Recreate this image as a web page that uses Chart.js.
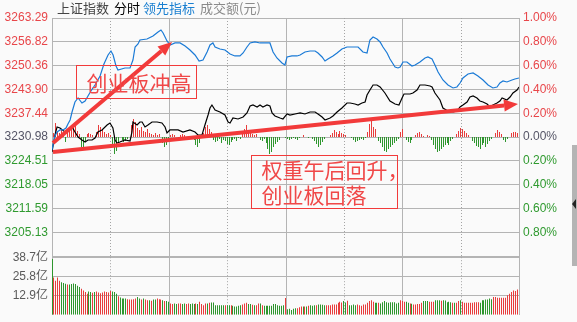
<!DOCTYPE html>
<html><head><meta charset="utf-8">
<script src="https://cdn.jsdelivr.net/npm/chart.js@4.4.0/dist/chart.umd.min.js"></script>
<style>
html,body{margin:0;padding:0;background:#fafafa;}
#wrap{position:relative;width:577px;height:322px;overflow:hidden;background:#fafafa;}
canvas{position:absolute;left:0;}
#cA{top:0;}
#cB{top:246px;}
.hd{position:absolute;top:0;font:13px/16px "Noto Sans CJK SC",sans-serif;white-space:nowrap;}
#sb{position:absolute;left:572px;top:145px;width:5px;height:121px;background:#b4b4b4;}
#sbArrow{position:absolute;left:572px;top:199px;width:0;height:0;border-top:5px solid transparent;border-bottom:5px solid transparent;border-right:4px solid #222;}
</style></head>
<body><div id="wrap">
<canvas id="cA" width="577" height="270"></canvas>
<canvas id="cB" width="577" height="80"></canvas>
<span class="hd" style="left:57px;color:#444">上证指数</span>
<span class="hd" style="left:114px;color:#000">分时</span>
<span class="hd" style="left:143px;color:#1a7fd0">领先指标</span>
<span class="hd" style="left:200px;color:#8a8a8a">成交额(元)</span>
<div id="sb"></div><div id="sbArrow"></div>
</div>
<script>
// ---------- DATA ----------
const prevClose = 3230.98;
const priceTickLabels = ['', '3205.13', '3211.59', '3218.05', '3224.51', '3230.98', '3237.44', '3243.90', '3250.36', '3256.82', '3263.29'];
const pctTickLabels = ['', '0.80%', '0.60%', '0.40%', '0.20%', '0.00%', '0.20%', '0.40%', '0.60%', '0.80%', '1.00%'];
const volTickValues = [12.9, 25.8, 38.7];
const volTickLabels = ['12.9亿', '25.8亿', '38.7亿'];
const gridMinutes = [0, 30, 60, 90, 120, 150, 180, 210, 240];

// 领先指标 (blue) : [minute, value]
const leadLine = [
[0,3227.45],[1.5,3231.26],[2.6,3232.34],[4.1,3232.89],[5.7,3232.89],[7.2,3233.43],[8.2,3234.51],[9.3,3235.60],[10.3,3237.77],[11.8,3240.49],
[13.4,3241.57],[15.4,3240.21],[17.0,3240.76],[18.5,3242.12],[20.0,3243.47],[22.1,3245.10],[24.7,3247.55],[26.7,3250.80],[28.8,3253.25],[30.3,3254.33],
[31.4,3253.25],[32.9,3250.26],[33.9,3249.17],[37.5,3249.72],[40.1,3249.72],[41.6,3251.89],[42.7,3255.42],[44.2,3256.23],[45.2,3257.32],[48.8,3257.59],
[51.9,3258.41],[54.5,3259.49],[56.0,3260.03],[57.1,3259.22],[59.1,3257.05],[60.7,3255.96],[63.2,3256.51],[65.8,3256.51],[68.4,3255.69],[70.9,3254.61],
[73.5,3253.25],[75.6,3251.62],[77.6,3251.89],[79.7,3254.06],[81.2,3255.96],[82.7,3256.51],[83.8,3255.42],[86.3,3254.88],[88.9,3254.61],[91.5,3253.52],
[94.0,3252.98],[96.6,3252.98],[98.2,3253.79],[100.2,3255.42],[101.8,3256.51],[104.3,3256.78],[106.9,3256.51],[109.5,3256.51],[112.0,3256.51],[113.6,3254.06],
[115.6,3252.44],[118.2,3251.07],[119.7,3250.53],[120.8,3252.71],[123.3,3252.98],[125.9,3252.98],[127.5,3253.25],[130.0,3254.06],[132.6,3254.33],[135.2,3254.33],
[136.7,3253.79],[138.8,3252.71],[140.3,3251.62],[141.8,3252.16],[144.4,3252.98],[146.5,3253.79],[149.0,3254.88],[151.6,3255.42],[154.7,3255.42],[157.3,3255.42],
[159.8,3254.06],[161.9,3253.79],[163.4,3257.32],[165.0,3258.13],[167.0,3257.59],[168.6,3256.78],[170.1,3255.42],[172.2,3253.79],[173.7,3252.16],[176.3,3249.99],
[177.8,3249.72],[178.9,3249.99],[180.4,3251.35],[182.4,3251.35],[185.0,3250.26],[186.6,3250.53],[189.1,3251.35],[191.7,3252.44],[193.2,3252.71],[195.3,3252.16],
[196.8,3250.53],[198.4,3248.63],[200.9,3246.46],[203.5,3245.10],[206.1,3244.29],[208.1,3244.56],[209.7,3245.64],[211.2,3247.00],[213.8,3248.09],[216.4,3248.36],
[218.9,3247.55],[221.5,3246.46],[224.1,3245.10],[226.6,3244.29],[228.7,3244.56],[230.2,3245.64],[231.8,3246.19],[233.8,3245.92],[236.4,3246.46],[237.9,3246.73],
[240,3247.00]
];

// 上证指数 (black) : [minute, value]
const indexLine = [
[0,3226.91],[1.5,3231.52],[2.6,3233.70],[4.1,3233.43],[6.7,3232.34],[8.2,3232.89],[10.3,3233.70],[11.8,3232.34],[13.4,3230.98],[15.4,3230.17],
[17.0,3229.62],[18.5,3230.17],[20.6,3230.17],[22.1,3230.71],[23.6,3232.34],[25.7,3232.89],[28.3,3234.24],[29.8,3234.78],[31.3,3233.43],[32.4,3230.17],
[33.4,3229.35],[34.9,3229.62],[37.5,3230.17],[40.1,3229.90],[41.1,3232.34],[41.6,3235.05],[43.7,3234.24],[45.2,3235.05],[46.3,3235.05],[47.8,3233.70],
[49.3,3234.24],[51.4,3235.05],[54.0,3235.05],[56.5,3234.78],[58.1,3233.70],[59.1,3232.07],[60.6,3232.89],[63.2,3232.89],[64.8,3232.89],[67.3,3232.34],
[70.9,3232.89],[73.5,3232.34],[75.0,3231.52],[77.1,3231.52],[78.6,3234.24],[80.2,3236.95],[81.2,3238.86],[82.2,3239.67],[83.8,3238.32],[86.3,3237.77],
[88.9,3236.95],[90.5,3235.05],[91.5,3234.78],[93.0,3236.14],[95.6,3235.87],[98.2,3236.41],[100.2,3237.50],[101.8,3239.40],[103.3,3239.67],[105.4,3239.13],
[106.9,3239.67],[108.4,3239.13],[110.5,3239.67],[112.0,3239.40],[113.1,3237.50],[114.6,3236.68],[117.2,3236.14],[118.7,3235.87],[120.8,3237.23],[122.3,3236.95],
[124.9,3237.23],[127.5,3237.50],[130.0,3237.23],[132.6,3237.77],[135.2,3237.77],[136.7,3237.23],[138.8,3236.41],[140.3,3235.60],[142.9,3236.14],[144.4,3236.68],
[146.5,3237.77],[149.0,3238.86],[151.6,3240.21],[153.2,3240.21],[155.7,3239.94],[157.3,3239.67],[159.3,3240.21],[160.9,3240.49],[161.9,3242.39],[163.4,3243.75],
[165.0,3245.10],[167.0,3245.10],[168.6,3244.56],[171.1,3242.93],[173.7,3240.76],[176.3,3239.94],[178.3,3239.67],[179.9,3241.57],[180.9,3242.66],[184.0,3242.66],
[185.5,3242.93],[187.6,3243.75],[189.1,3245.10],[191.7,3245.10],[194.3,3244.83],[195.3,3244.56],[196.8,3242.93],[199.4,3241.03],[200.9,3238.86],[203.5,3238.04],
[206.1,3237.77],[208.1,3238.04],[209.7,3239.13],[211.2,3239.67],[213.3,3240.49],[214.8,3241.84],[216.4,3242.12],[218.4,3241.57],[219.9,3240.76],[221.5,3240.49],
[223.6,3239.94],[225.1,3239.13],[226.6,3239.67],[228.7,3240.21],[230.2,3240.76],[231.3,3241.57],[233.8,3241.03],[235.4,3241.84],[236.9,3242.93],[239.0,3243.75],
[240,3244.56]
];

// red/green indicator bars, one per minute (0..240)
const leadBars = [
0,4,14,6,4,7,5,-5,8,6,
10,12,13,6,3,-10,-11,-4,3,4,
3,2,0,5,12,10,7,5,3,4,
2,-8,-17,-14,-6,0,-3,-5,-4,-2,
0,12,18,15,9,7,10,6,5,8,
4,3,2,4,2,3,0,-6,-10,-8,
-5,2,3,2,0,-2,2,3,2,0,
0,-1,0,-3,-8,-10,-6,0,4,10,
12,8,5,-3,-5,-4,-2,-6,-3,-4,
-7,-8,-5,-3,-2,-4,-1,-2,5,8,
12,7,4,3,2,3,0,-3,-4,-2,
-6,-12,-17,-15,-10,-7,-5,-3,0,0,
-1,-2,-3,-2,-1,-2,-3,-1,0,2,
0,0,-1,0,-2,-4,-7,-10,-8,-5,
-2,0,0,2,4,7,5,3,6,4,
3,2,0,0,-1,-3,-5,-4,-3,-2,
-3,-1,5,13,16,10,8,0,-4,-6,
-10,-14,-15,-12,-10,-8,-6,-4,-2,5,
8,0,-3,-5,-6,-3,0,2,4,5,
3,1,0,2,1,-3,-8,-12,-15,-14,
-12,-10,-8,-6,-8,-4,-2,0,3,6,
9,8,6,4,2,0,-4,-6,-9,-10,
-12,-8,-6,-10,-7,-4,-2,0,4,7,
5,3,-3,-5,-2,0,4,5,5,4,
0
];

// 成交额 (亿), one per minute (0..240)
const volume = [
37.5,25.0,22.9,25.1,22.9,21.8,21.3,20.9,20.3,20.3,
20.7,21.0,20.7,19.6,18.6,17.5,16.4,15.3,14.2,15.6,
15.3,14.8,15.3,15.6,15.0,14.5,15.0,15.6,15.3,15.0,
16.0,15.6,15.3,14.2,12.4,11.6,10.9,10.9,10.9,10.5,
10.2,10.2,10.5,10.9,12.0,10.9,10.2,10.9,10.2,9.8,
9.8,9.4,10.2,10.2,10.9,10.5,10.2,9.8,9.2,9.2,
8.7,7.6,7.2,7.6,7.2,7.6,7.6,7.2,7.6,7.2,
7.6,7.2,7.6,7.2,7.6,7.2,8.7,7.2,6.5,7.6,
7.6,8.1,8.3,8.3,6.5,6.5,6.5,6.5,6.5,6.5,
6.5,6.5,6.5,6.1,5.5,5.5,6.1,6.5,7.0,7.6,
8.1,7.2,7.2,6.8,6.5,6.5,7.6,7.6,6.5,6.1,
6.1,6.1,6.1,6.1,7.2,7.2,6.5,6.1,6.1,6.5,
11.3,3.7,4.0,3.3,4.0,4.4,4.4,5.0,5.5,5.5,
5.5,5.5,6.1,6.5,6.1,6.5,6.5,7.0,7.0,6.8,
6.5,6.5,6.5,6.5,7.0,7.0,7.0,8.1,8.7,8.3,
9.2,8.3,9.4,6.5,6.5,7.0,6.5,7.0,6.5,6.1,
7.0,7.0,8.1,9.2,9.8,8.7,8.1,8.1,8.1,7.6,
8.5,9.2,8.5,8.1,8.5,8.5,8.5,7.6,8.1,9.8,
9.2,8.7,8.7,8.1,7.6,7.4,7.0,7.0,7.2,7.2,
8.1,9.2,9.2,9.2,8.7,8.7,8.7,9.8,9.8,9.8,
9.4,9.8,9.6,8.5,8.7,8.5,8.1,8.1,8.1,9.2,
9.8,8.7,8.1,8.1,8.1,8.1,8.1,8.5,8.5,8.5,
8.1,9.8,9.8,10.3,10.3,10.9,10.5,12.0,12.0,11.4,
11.4,11.4,11.4,11.4,13.1,14.2,15.3,16.4,16.0,17.0,
25.1
];
// per-minute direction (R = up, G = down)
const volumeDir =
  'G' + 'RRRR' + 'GGG' + 'R' + 'GGGGGG' + 'RRRR' + 'GG' + 'R' + 'G' + 'RRRRRRRR' +
  'GGG' + 'R' + 'GGGG' + 'RRRRR' + 'GG' + 'R' + 'G' + 'RR' + 'G' + 'R' + 'GG' + 'RRR' +
  'G' + 'R' + 'GG' + 'RR' + 'GG' + 'RR' + 'GG' + 'RR' + 'GGG' + 'R' + 'G' + 'R' +
  'RRR' + 'G' + 'R' + 'GGGGGGG' + 'R' + 'GG' + 'R' + 'GGGGG' + 'RRR' + 'GG' + 'R' + 'G' +
  'RR' + 'G' + 'R' + 'GGGGGGGGGGG' + 'R' + 'GGGGG' + 'RRR' + 'G' + 'R' + 'G' + 'R' + 'GGG' +
  'R' + 'GGGG' + 'RRRRRRRRR' + 'GG' + 'R' + 'GGGG' + 'RRRRRRRRR' + 'GG' + 'R' + 'GGGGGGGGGG' +
  'RRR' + 'GG' + 'R' + 'G' + 'RRRRR' + 'GGG' + 'RRR' + 'GGG' + 'R' + 'GGGGG' + 'R' + 'G' +
  'RR' + 'G' + 'RRRRRRRRR' + 'GGGGGGG' + 'RRRRRRRRRRRRRR';

// annotations, anchored in data space [minute, price]
const notes = {
  arrows: [
    { from: [0.5, 3229.36], to: [61.7, 3256.78] },
    { from: [0.5, 3226.91], to: [239.5, 3239.94] }
  ],
  boxes: [
    { from: [12.3, 3250.53], to: [74.0, 3241.57], lines: ['创业板冲高'] },
    { from: [102.3, 3226.10], to: [177.3, 3211.71], lines: ['权重午后回升，', '创业板回落'] }
  ]
};

// ---------- STYLE ----------
const GRID = '#b4b4b4';
const RED = '#e8464a', GREEN = '#2f9a2f', NEUTRAL = '#555566';
const BAR_RED = '#e83c3c', BAR_GREEN = '#2e962e';
const NOTE_RED = '#f23a3a';
Chart.defaults.font.family = '"Liberation Sans", Arial, "Noto Sans CJK SC", sans-serif';
Chart.defaults.font.size = 12;

const priceTickValues = priceTickLabels.map((_, i) => prevClose * (1 + (i - 5) * 0.002));
const yMin = prevClose * 0.99, yMax = prevClose * 1.01;

const vGrid = {
  id: 'vGrid',
  beforeDatasetsDraw(chart) {
    const { ctx, chartArea: a, scales: { x } } = chart;
    ctx.save();
    gridMinutes.forEach(m => {
      if (m === 0 || m === 240) return;
      const px = Math.round(x.getPixelForValue(m)) + 0.5;
      const half = m % 60 === 30;
      ctx.beginPath();
      ctx.setLineDash(half ? [1, 2] : []);
      ctx.strokeStyle = half ? '#a4a4a4' : GRID;
      ctx.lineWidth = 1;
      ctx.moveTo(px, a.top); ctx.lineTo(px, a.bottom);
      ctx.stroke();
    });
    ctx.restore();
  }
};

// snap 1px bars onto whole pixel columns so they render crisp
const snapBars = {
  id: 'snapBars',
  beforeDatasetsDraw(chart) {
    chart.data.datasets.forEach((ds, i) => {
      const meta = chart.getDatasetMeta(i);
      if (meta.type !== 'bar') return;
      meta.data.forEach(el => { el.x = Math.floor(el.x) + 0.5; });
    });
  }
};

const annot = {
  id: 'annot',
  afterDatasetsDraw(chart) {
    const { ctx, scales: { x, y } } = chart;
    const P = p => [x.getPixelForValue(p[0]), y.getPixelForValue(p[1])];
    ctx.save();
    notes.arrows.forEach(a => {
      const [x0, y0] = P(a.from), [x1, y1] = P(a.to);
      const ang = Math.atan2(y1 - y0, x1 - x0);
      const L = 14, W = 6;
      const bx = x1 - L * Math.cos(ang), by = y1 - L * Math.sin(ang);
      ctx.strokeStyle = NOTE_RED; ctx.fillStyle = NOTE_RED;
      ctx.lineWidth = 4; ctx.lineCap = 'butt';
      ctx.beginPath(); ctx.moveTo(x0, y0); ctx.lineTo(bx, by); ctx.stroke();
      ctx.beginPath();
      ctx.moveTo(x1, y1);
      ctx.lineTo(bx + W * Math.sin(ang), by - W * Math.cos(ang));
      ctx.lineTo(bx - W * Math.sin(ang), by + W * Math.cos(ang));
      ctx.closePath(); ctx.fill();
    });
    notes.boxes.forEach(b => {
      const [x0, y0] = P(b.from), [x1, y1] = P(b.to);
      ctx.strokeStyle = NOTE_RED; ctx.lineWidth = 1;
      ctx.strokeRect(Math.round(x0) + 0.5, Math.round(y0) + 0.5, Math.round(x1 - x0), Math.round(y1 - y0));
      ctx.fillStyle = '#f04848';
      ctx.font = '21px "Noto Sans CJK SC", sans-serif';
      ctx.textBaseline = 'middle'; ctx.textAlign = 'left';
      const first = b.lines.length > 1 ? 15 : 18;
      b.lines.forEach((t, i) => ctx.fillText(t, x0 + 10.5, y0 + first + i * 25));
    });
    ctx.restore();
  }
};

// ---------- PRICE PANEL ----------
new Chart(document.getElementById('cA'), {
  type: 'line',
  data: {
    datasets: [
      { type: 'bar', yAxisID: 'yd', order: 3,
        data: leadBars.map((v, i) => ({ x: i, y: v })),
        backgroundColor: leadBars.map(v => v >= 0 ? BAR_RED : BAR_GREEN),
        barThickness: 1, borderWidth: 0, inflateAmount: 0 },
      { yAxisID: 'y', order: 2, data: indexLine.map(p => ({ x: p[0], y: p[1] })),
        borderColor: '#000', borderWidth: 1.2, pointRadius: 0, tension: 0 },
      { yAxisID: 'y', order: 1, data: leadLine.map(p => ({ x: p[0], y: p[1] })),
        borderColor: '#1a7ad6', borderWidth: 1.2, pointRadius: 0, tension: 0 }
    ]
  },
  options: {
    responsive: false, animation: false, devicePixelRatio: 1, events: [],
    layout: { padding: { top: 18, bottom: 14, left: 0, right: 0 } },
    plugins: { legend: { display: false }, tooltip: { enabled: false } },
    scales: {
      x: { type: 'linear', min: 0, max: 240, offset: false,
        afterFit: s => { s.height = 0; },
        ticks: { display: false }, grid: { display: false },
        border: { display: true, color: GRID } },
      y: { position: 'left', min: yMin, max: yMax,
        afterBuildTicks: s => { s.ticks = priceTickValues.map(v => ({ value: v })); },
        afterFit: s => { s.width = 52; },
        ticks: { padding: 4, callback: (v, i) => priceTickLabels[i],
          color: c => c.index > 5 ? RED : (c.index < 5 ? GREEN : NEUTRAL) },
        grid: { color: GRID, drawTicks: false },
        border: { display: true, color: GRID } },
      yr: { position: 'right', min: yMin, max: yMax,
        afterBuildTicks: s => { s.ticks = priceTickValues.map(v => ({ value: v })); },
        afterFit: s => { s.width = 58; },
        ticks: { padding: 4, callback: (v, i) => pctTickLabels[i],
          color: c => c.index > 5 ? RED : (c.index < 5 ? GREEN : NEUTRAL) },
        grid: { drawOnChartArea: false, drawTicks: false },
        border: { display: true, color: GRID } },
      yd: { display: false, min: -119, max: 119 }
    }
  },
  plugins: [vGrid, snapBars, annot]
});

// ---------- VOLUME PANEL ----------
new Chart(document.getElementById('cB'), {
  type: 'bar',
  data: {
    datasets: [{
      data: volume.map((v, i) => ({ x: i, y: v })),
      backgroundColor: volume.map((v, i) => volumeDir[i] === 'R' ? BAR_RED : BAR_GREEN),
      barThickness: 1, borderWidth: 0, inflateAmount: 0
    }]
  },
  options: {
    responsive: false, animation: false, devicePixelRatio: 1, events: [],
    layout: { padding: { top: 11, bottom: 11, left: 0, right: 0 } },
    plugins: { legend: { display: false }, tooltip: { enabled: false } },
    scales: {
      x: { type: 'linear', min: 0, max: 240, offset: false,
        afterFit: s => { s.height = 0; },
        ticks: { display: false }, grid: { display: false, offset: false },
        border: { display: false } },
      y: { position: 'left', min: 0, max: 38.7,
        afterBuildTicks: s => { s.ticks = volTickValues.map(v => ({ value: v })); },
        afterFit: s => { s.width = 52; },
        ticks: { padding: 4, color: '#5a5a5a', callback: (v, i) => volTickLabels[i] },
        grid: { color: GRID, drawTicks: false },
        border: { display: true, color: GRID } },
      yr: { position: 'right', min: 0, max: 38.7,
        afterFit: s => { s.width = 58; },
        ticks: { display: false },
        grid: { drawOnChartArea: false, drawTicks: false },
        border: { display: true, color: GRID } }
    }
  },
  plugins: [vGrid, snapBars]
});
</script>
</body></html>
